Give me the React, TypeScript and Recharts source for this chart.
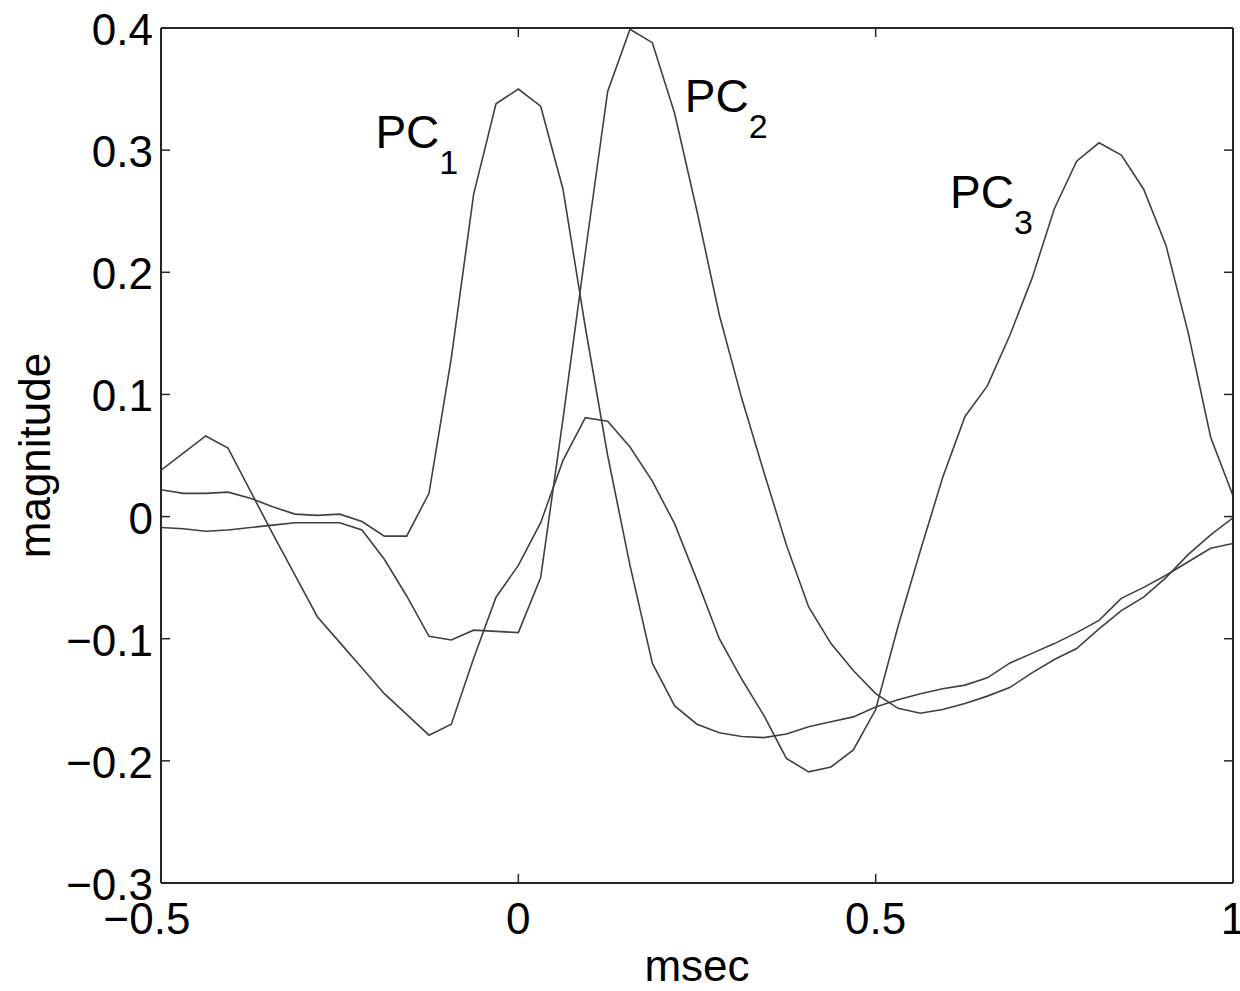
import React from 'react';
import { LineChart, Line, XAxis, YAxis, ReferenceDot } from 'recharts';

// time samples (msec)
const timeMs = [
  -0.5, -0.46875, -0.4375, -0.40625, -0.375, -0.34375, -0.3125, -0.28125,
  -0.25, -0.21875, -0.1875, -0.15625, -0.125, -0.09375, -0.0625, -0.03125,
  0, 0.03125, 0.0625, 0.09375, 0.125, 0.15625, 0.1875, 0.21875,
  0.25, 0.28125, 0.3125, 0.34375, 0.375, 0.40625, 0.4375, 0.46875,
  0.5, 0.53125, 0.5625, 0.59375, 0.625, 0.65625, 0.6875, 0.71875,
  0.75, 0.78125, 0.8125, 0.84375, 0.875, 0.90625, 0.9375, 0.96875, 1,
];

const pc1 = [
  0.022, 0.019, 0.019, 0.020, 0.015, 0.008, 0.002, 0.001,
  0.002, -0.004, -0.016, -0.016, 0.019, 0.130, 0.264, 0.338,
  0.350, 0.336, 0.268, 0.155, 0.050, -0.040, -0.120, -0.155,
  -0.170, -0.177, -0.180, -0.181, -0.178, -0.172, -0.168, -0.164,
  -0.156, -0.150, -0.145, -0.141, -0.138, -0.132, -0.120, -0.112,
  -0.104, -0.095, -0.085, -0.067, -0.058, -0.048, -0.037, -0.026, -0.022,
];

const pc2 = [
  -0.009, -0.010, -0.012, -0.011, -0.009, -0.007, -0.005, -0.005,
  -0.005, -0.011, -0.035, -0.065, -0.098, -0.101, -0.093, -0.094,
  -0.095, -0.050, 0.080, 0.216, 0.348, 0.399, 0.388, 0.330,
  0.250, 0.165, 0.097, 0.036, -0.023, -0.074, -0.104, -0.126,
  -0.145, -0.157, -0.161, -0.158, -0.153, -0.147, -0.140, -0.128,
  -0.117, -0.108, -0.092, -0.077, -0.066, -0.050, -0.031, -0.015, -0.001,
];

const pc3 = [
  0.038, 0.052, 0.066, 0.056, 0.021, -0.014, -0.048, -0.082,
  -0.103, -0.124, -0.145, -0.162, -0.179, -0.170, -0.116, -0.066,
  -0.040, -0.005, 0.046, 0.081, 0.078, 0.057, 0.029, -0.006,
  -0.052, -0.100, -0.133, -0.163, -0.198, -0.209, -0.205, -0.191,
  -0.158, -0.090, -0.028, 0.032, 0.082, 0.107, 0.148, 0.195,
  0.252, 0.291, 0.306, 0.296, 0.268, 0.222, 0.150, 0.065, 0.017,
];

const xTicks = [-0.5, 0, 0.5, 1];
const yTicks = [-0.3, -0.2, -0.1, 0, 0.1, 0.2, 0.3, 0.4];

const annotationText = ['1', '2', '3'];
const annotationX = [-0.2, 0.233, 0.604];
const annotationY = [0.302, 0.3315, 0.253];

const data = timeMs.map((x, i) => ({ x, pc1: pc1[i], pc2: pc2[i], pc3: pc3[i] }));

const FONT = '"Liberation Sans", Arial, Helvetica, sans-serif';
const TICK_FS = 44;
const AXIS_COLOR = '#262626';
const LINE_COLOR = '#404040';
const TICK_LEN = 9;

const fmt = (v: number) => {
  if (v === 0) return '0';
  if (v < 0) return '\u2212' + String(Math.abs(v));
  return String(v);
};

const BottomTick = (props: any) => {
  const { x, y, payload } = props;
  const v = payload.value;
  return (
    <g>
      <line x1={x} y1={y} x2={x} y2={y - TICK_LEN} stroke={AXIS_COLOR} strokeWidth={1.5} />
      <text x={x + (v < 0 ? -14 : 0)} y={y + 51} textAnchor="middle" fontSize={TICK_FS} fontFamily={FONT} fill="#000">
        {fmt(v)}
      </text>
    </g>
  );
};

const TopTick = (props: any) => {
  const { x, y } = props;
  return <line x1={x} y1={y} x2={x} y2={y + TICK_LEN} stroke={AXIS_COLOR} strokeWidth={1.5} />;
};

const LeftTick = (props: any) => {
  const { x, y, payload } = props;
  return (
    <g>
      <line x1={x} y1={y} x2={x + TICK_LEN} y2={y} stroke={AXIS_COLOR} strokeWidth={1.5} />
      <text x={x - 8} y={y + 17} textAnchor="end" fontSize={TICK_FS} fontFamily={FONT} fill="#000">
        {fmt(payload.value)}
      </text>
    </g>
  );
};

const RightTick = (props: any) => {
  const { x, y } = props;
  return <line x1={x} y1={y} x2={x - TICK_LEN} y2={y} stroke={AXIS_COLOR} strokeWidth={1.5} />;
};

const XLabel = (props: any) => {
  const vb = props.viewBox;
  return (
    <text x={vb.x + vb.width / 2} y={vb.y + 98} textAnchor="middle" fontSize={44} fontFamily={FONT} fill="#000">
      msec
    </text>
  );
};

const YLabel = (props: any) => {
  const vb = props.viewBox;
  const cx = vb.x + 50;
  const cy = vb.y + vb.height / 2;
  return (
    <text x={cx} y={cy} transform={`rotate(-90 ${cx} ${cy})`} textAnchor="middle" fontSize={44} fontFamily={FONT} fill="#000">
      magnitude
    </text>
  );
};

const makePCLabel = (sub: string) => (props: any) => {
  const vb = props.viewBox;
  return (
    <text x={vb.x} y={vb.y} fontSize={46} fontFamily={FONT} fill="#000">
      PC
      <tspan fontSize={34} dy={26}>{sub}</tspan>
    </text>
  );
};

const axisLineStyle = { stroke: AXIS_COLOR, strokeWidth: 2 };

export default function App() {
  return (
    <div style={{ position: 'absolute', left: 0, top: 0, width: 1240, height: 991, background: '#fff' }}>
      <LineChart width={1240} height={991} data={data} margin={{ top: 0, right: 0, bottom: 0, left: 0 }}>
        <XAxis
          dataKey="x"
          type="number"
          domain={[-0.5, 1]}
          ticks={xTicks}
          interval={0}
          height={108}
          tickSize={0}
          tickMargin={0}
          tickLine={false}
          axisLine={axisLineStyle}
          tick={<BottomTick />}
          label={{ content: XLabel }}
          allowDataOverflow
        />
        <XAxis
          xAxisId="top"
          orientation="top"
          dataKey="x"
          type="number"
          domain={[-0.5, 1]}
          ticks={xTicks}
          interval={0}
          height={28}
          tickSize={0}
          tickMargin={0}
          tickLine={false}
          axisLine={axisLineStyle}
          tick={<TopTick />}
          allowDataOverflow
        />
        <YAxis
          type="number"
          domain={[-0.3, 0.4]}
          ticks={yTicks}
          interval={0}
          width={161}
          tickSize={0}
          tickMargin={0}
          tickLine={false}
          axisLine={axisLineStyle}
          tick={<LeftTick />}
          label={{ content: YLabel }}
          allowDataOverflow
        />
        <YAxis
          yAxisId="right"
          orientation="right"
          type="number"
          domain={[-0.3, 0.4]}
          ticks={yTicks}
          interval={0}
          width={7}
          tickSize={0}
          tickMargin={0}
          tickLine={false}
          axisLine={axisLineStyle}
          tick={<RightTick />}
          allowDataOverflow
        />
        <Line type="linear" dataKey="pc1" stroke={LINE_COLOR} strokeWidth={1.6} dot={false} isAnimationActive={false} />
        <Line type="linear" dataKey="pc2" stroke={LINE_COLOR} strokeWidth={1.6} dot={false} isAnimationActive={false} />
        <Line type="linear" dataKey="pc3" stroke={LINE_COLOR} strokeWidth={1.6} dot={false} isAnimationActive={false} />
        {annotationText.map((t, i) => (
          <ReferenceDot
            key={t}
            x={annotationX[i]}
            y={annotationY[i]}
            r={0}
            fill="none"
            stroke="none"
            label={makePCLabel(t)}
          />
        ))}
      </LineChart>
    </div>
  );
}
